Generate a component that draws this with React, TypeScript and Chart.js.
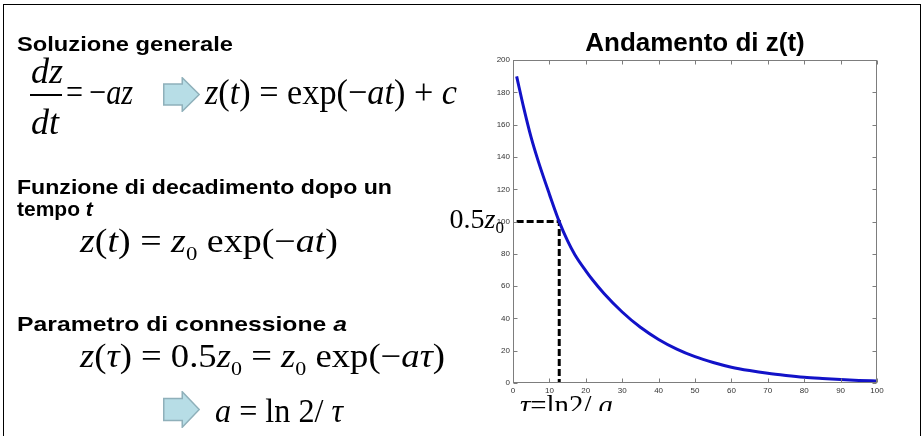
import React, { useEffect, useLayoutEffect, useRef } from 'react';
import { Chart, registerables } from 'chart.js';

Chart.register(...registerables);

// Decay curve z(t), sampled along t
const timeValues = [1, 3, 5, 7, 10, 12.7, 15, 17, 20, 22, 25, 30, 35, 40, 45, 50, 55, 60, 65, 70, 75, 80, 85, 90, 95, 100];
const zValues = [190, 170, 152, 137, 117, 100, 88, 79.5, 69.5, 63.5, 55.5, 44, 34.5, 27, 21, 16.3, 12.7, 9.8, 7.7, 6.0, 4.7, 3.6, 2.8, 2.1, 1.6, 1.2];

// Half-life marker: z falls to 0.5 z0 at t = tau
const tau = 12.7;
const halfValue = 100;
const markerStart = 1;

// Axis ranges and tick spacing
const xRange = [0, 100];
const yRange = [0, 200];
const xStep = 10;
const yStep = 20;

const chartTitle = 'Andamento di z(t)';

const SERIF = '"Liberation Serif", "Times New Roman", Times, serif';
const SANS = '"Liberation Sans", Arial, Helvetica, sans-serif';

// Box around the axes with inward tick marks on all four sides
const boxPlugin = {
  id: 'boxTicks',
  afterDraw(chart: any) {
    const { ctx, chartArea: a, scales } = chart;
    const L = Math.round(a.left) + 0.5;
    const R = Math.round(a.right) - 0.5;
    const T = Math.round(a.top) + 0.5;
    const B = Math.round(a.bottom) - 0.5;
    ctx.save();
    ctx.strokeStyle = '#7d7d7d';
    ctx.lineWidth = 1;
    ctx.strokeRect(L, T, R - L, B - T);
    const len = 4;
    ctx.beginPath();
    scales.x.ticks.forEach((t: any) => {
      const px = Math.round(scales.x.getPixelForValue(t.value)) + 0.5;
      ctx.moveTo(px, B); ctx.lineTo(px, B - len);
      ctx.moveTo(px, T); ctx.lineTo(px, T + len);
    });
    scales.y.ticks.forEach((t: any) => {
      const py = Math.round(scales.y.getPixelForValue(t.value)) + 0.5;
      ctx.moveTo(L, py); ctx.lineTo(L + len, py);
      ctx.moveTo(R, py); ctx.lineTo(R - len, py);
    });
    ctx.stroke();
    ctx.restore();
  },
};

// Math labels for the half-life marker: 0.5z0 beside the y axis, tau = ln2/a under the x axis
const markerLabels = {
  id: 'markerLabels',
  afterDraw(chart: any) {
    const { ctx, chartArea: a, scales } = chart;
    const yHalf = scales.y.getPixelForValue(halfValue);
    ctx.save();
    ctx.fillStyle = '#000';
    ctx.textBaseline = 'alphabetic';
    ctx.textAlign = 'left';

    // 0.5 z_0
    const big = `28px ${SERIF}`;
    const bigIt = `italic 28px ${SERIF}`;
    const small = `17px ${SERIF}`;
    ctx.font = big; const w1 = ctx.measureText('0.5').width;
    ctx.font = bigIt; const w2 = ctx.measureText('z').width;
    ctx.font = small; const w3 = ctx.measureText('0').width;
    let x = a.left - 9 - (w1 + w2 + w3);
    const base = yHalf + 6;
    ctx.font = big; ctx.fillText('0.5', x, base); x += w1;
    ctx.font = bigIt; ctx.fillText('z', x, base); x += w2;
    ctx.font = small; ctx.fillText('0', x, base + 5);

    // tau = ln2 / a, its lower part cut off by the picture box
    const parts: [string, string][] = [
      ['τ', bigIt], ['=', big], ['ln2', big], ['/', big], [' a', bigIt],
    ];
    let total = 0;
    parts.forEach(([s, f]) => { ctx.font = f; total += ctx.measureText(s).width; });
    const target = 93;
    const sx = target / total;
    ctx.beginPath();
    ctx.rect(0, 0, chart.width, a.bottom + 28);
    ctx.clip();
    ctx.translate(a.left + 7, a.bottom + 31);
    ctx.scale(sx, 1);
    let px = 0;
    parts.forEach(([s, f]) => {
      ctx.font = f;
      ctx.fillText(s, px, 0);
      px += ctx.measureText(s).width;
    });
    ctx.restore();
  },
};

// Text block horizontally fitted to a given width, positioned by its baseline
function Fit(props: {
  x: number; baseline: number; size: number; width?: number;
  family: string; bold?: boolean; children: React.ReactNode;
}) {
  const ref = useRef<HTMLDivElement>(null);
  const { x, baseline, size, width, family, bold, children } = props;
  useLayoutEffect(() => {
    const el = ref.current;
    if (!el || !width) return;
    el.style.transform = 'none';
    const w = el.getBoundingClientRect().width;
    if (w > 0) el.style.transform = `scaleX(${width / w})`;
  });
  return (
    <div
      ref={ref}
      style={{
        position: 'absolute',
        left: x,
        top: baseline - 0.845 * size,
        fontSize: size,
        lineHeight: `${size}px`,
        fontFamily: family,
        fontWeight: bold ? 700 : 400,
        whiteSpace: 'nowrap',
        display: 'inline-block',
        transformOrigin: '0 0',
        color: '#000',
      }}
    >
      {children}
    </div>
  );
}

function Sub({ children }: { children: React.ReactNode }) {
  return <span style={{ fontSize: '0.6em', verticalAlign: '-0.4em' }}>{children}</span>;
}

function Arrow({ x, y, w, h }: { x: number; y: number; w: number; h: number }) {
  const bodyTop = h * 0.2;
  const bodyBot = h * 0.8;
  const neck = w * 0.52;
  const pts = [
    [0.75, bodyTop], [neck, bodyTop], [neck, 0.75], [w - 0.75, h / 2],
    [neck, h - 0.75], [neck, bodyBot], [0.75, bodyBot],
  ].map((p) => p.join(',')).join(' ');
  return (
    <svg width={w} height={h} style={{ position: 'absolute', left: x, top: y }}>
      <polygon points={pts} fill="#b7dde6" stroke="#8fb0ba" strokeWidth={1.5} />
    </svg>
  );
}

export default function App() {
  const canvasRef = useRef<HTMLCanvasElement>(null);

  useEffect(() => {
    const canvas = canvasRef.current;
    if (!canvas) return;
    Chart.defaults.font.family = SANS;
    const curve = timeValues.map((t, i) => ({ x: t, y: zValues[i] }));
    const marker = [
      { x: markerStart, y: halfValue },
      { x: tau, y: halfValue },
      { x: tau, y: yRange[0] },
    ];
    const chart = new Chart(canvas, {
      type: 'scatter',
      data: {
        datasets: [
          {
            label: 'z(t)',
            data: curve,
            showLine: true,
            borderColor: '#1212c8',
            borderWidth: 3,
            pointRadius: 0,
            cubicInterpolationMode: 'monotone',
            fill: false,
          },
          {
            label: '0.5 z0',
            data: marker,
            showLine: true,
            borderColor: '#000',
            borderWidth: 3,
            borderDash: [7, 3],
            pointRadius: 0,
            tension: 0,
            fill: false,
          },
        ],
      },
      options: {
        responsive: false,
        animation: false,
        events: [],
        layout: { padding: { left: 489, right: 47, top: 28, bottom: 33 } },
        plugins: {
          legend: { display: false },
          tooltip: { enabled: false },
          title: {
            display: true,
            text: chartTitle,
            fullSize: false,
            color: '#000',
            font: { family: SANS, size: 26, weight: 'bold', lineHeight: 1.2 },
            padding: { top: 0, bottom: 1 },
          },
        },
        scales: {
          x: {
            type: 'linear',
            min: xRange[0],
            max: xRange[1],
            grid: { display: false, drawTicks: false },
            border: { display: false },
            ticks: { stepSize: xStep, color: '#333', font: { size: 8 }, padding: 3, maxRotation: 0 },
            afterFit(scale: any) { scale.height = 20; scale.paddingLeft = 0; scale.paddingRight = 0; },
          },
          y: {
            type: 'linear',
            min: yRange[0],
            max: yRange[1],
            grid: { display: false, drawTicks: false },
            border: { display: false },
            ticks: { stepSize: yStep, color: '#333', font: { size: 8 }, padding: 3 },
            afterFit(scale: any) { scale.width = 24; scale.paddingTop = 0; scale.paddingBottom = 0; },
          },
        },
      } as any,
      plugins: [boxPlugin, markerLabels],
    });
    return () => chart.destroy();
  }, []);

  return (
    <div style={{ position: 'fixed', left: 0, top: 0, width: 924, height: 436, background: '#fff', overflow: 'hidden' }}>
      <canvas ref={canvasRef} width={924} height={436} style={{ position: 'absolute', left: 0, top: 0, width: 924, height: 436 }} />
      <div style={{ position: 'absolute', left: 3, top: 4, width: 916, height: 460, borderTop: '1px solid #000', borderLeft: '1px solid #000', borderRight: '1px solid #000' }} />

      <Fit x={17} baseline={51} size={21} width={216} family={SANS} bold>Soluzione generale</Fit>

      <Fit x={31} baseline={83} size={36} family={SERIF}><i>dz</i></Fit>
      <div style={{ position: 'absolute', left: 30, top: 94, width: 32, height: 1.5, background: '#000' }} />
      <Fit x={31} baseline={134} size={36} family={SERIF}><i>dt</i></Fit>
      <Fit x={66} baseline={104} size={36} width={67} family={SERIF}>={'\u2009'}−<i>az</i></Fit>
      <Arrow x={163} y={77} w={37} h={35} />
      <Fit x={205} baseline={104} size={36} width={252} family={SERIF}>
        <i>z</i>(<i>t</i>) = exp(−<i>at</i>) + <i>c</i>
      </Fit>

      <Fit x={17} baseline={194} size={21} width={375} family={SANS} bold>Funzione di decadimento dopo un</Fit>
      <Fit x={17} baseline={216} size={21} family={SANS} bold>tempo <i>t</i></Fit>
      <Fit x={80} baseline={253} size={33} width={258} family={SERIF}>
        <i>z</i>(<i>t</i>) = <i>z</i><Sub>0</Sub> exp(−<i>at</i>)
      </Fit>

      <Fit x={17} baseline={331} size={21} width={330} family={SANS} bold>Parametro di connessione <i>a</i></Fit>
      <Fit x={80} baseline={368} size={33} width={365} family={SERIF}>
        <i>z</i>(<i>τ</i>) = 0.5<i>z</i><Sub>0</Sub> = <i>z</i><Sub>0</Sub> exp(−<i>aτ</i>)
      </Fit>
      <Arrow x={163} y={391} w={37} h={37} />
      <Fit x={215} baseline={423} size={33} width={128} family={SERIF}>
        <i>a</i> = ln 2/ <i>τ</i>
      </Fit>
    </div>
  );
}
